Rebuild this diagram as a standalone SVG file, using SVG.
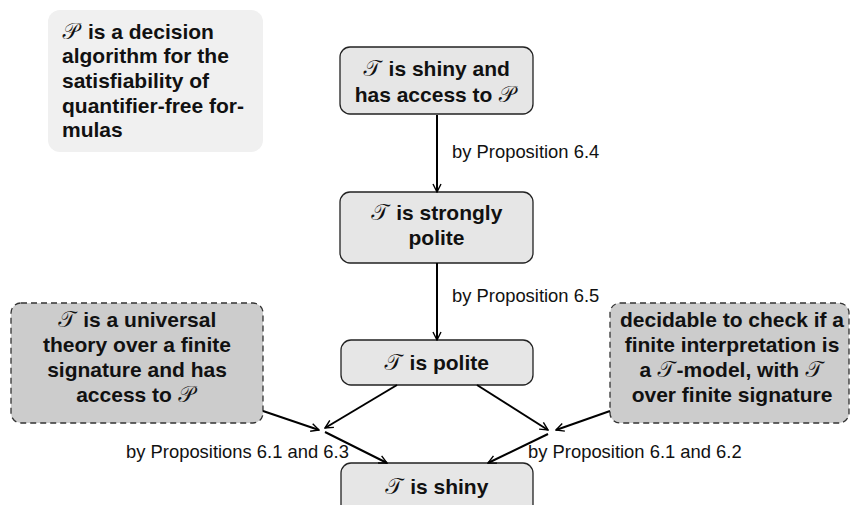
<svg xmlns="http://www.w3.org/2000/svg" width="853" height="505" viewBox="0 0 853 505">
<style>
.b{font-family:"Liberation Sans",Arial,sans-serif;font-weight:bold;font-size:21px;fill:#111}
.c{text-anchor:middle}
.m{font-family:"DejaVu Serif","Noto Sans Math",serif;font-weight:normal}
.lbl{font-family:"Liberation Sans",Arial,sans-serif;font-size:18.4px;fill:#111}
.node{fill:#e6e6e6;stroke:#222;stroke-width:1.3}
.dash{fill:#cccccc;stroke:#333;stroke-width:1.3;stroke-dasharray:6 4}
.edge{stroke:#000;stroke-width:2;fill:none;marker-end:url(#ah)}
</style>
<defs>
<marker id="ah" viewBox="0 0 10 10" refX="9" refY="5" markerWidth="10" markerHeight="10" orient="auto" markerUnits="userSpaceOnUse">
<path d="M1,1 L9,5 L1,9" fill="none" stroke="#000" stroke-width="1.4"/>
</marker>
</defs>
<rect width="853" height="505" fill="#fff"/>
<g id="note">
<rect x="48" y="10" width="215" height="142" rx="12" fill="#f0f0f0"/>
<text class="b" x="62" y="39"><tspan class="m">𝒫</tspan> is a decision</text>
<text class="b" x="62" y="63">algorithm for the</text>
<text class="b" x="62" y="88">satisfiability of</text>
<text class="b" x="62" y="113">quantifier-free for-</text>
<text class="b" x="62" y="137">mulas</text>
</g>
<g id="n1">
<rect class="node" x="340" y="47" width="193" height="67" rx="10"/>
<text class="b c" x="436.5" y="76"><tspan class="m">𝒯</tspan> is shiny and</text>
<text class="b c" x="436.5" y="102">has access to <tspan class="m">𝒫</tspan></text>
</g>
<g id="n2">
<rect class="node" x="340" y="192" width="193" height="71" rx="10"/>
<text class="b c" x="436.5" y="220"><tspan class="m">𝒯</tspan> is strongly</text>
<text class="b c" x="436.5" y="245">polite</text>
</g>
<g id="n3">
<rect class="node" x="341" y="340" width="192" height="45" rx="10"/>
<text class="b c" x="436.5" y="370"><tspan class="m">𝒯</tspan> is polite</text>
</g>
<g id="n4">
<rect class="node" x="341" y="463" width="192" height="55" rx="10"/>
<text class="b c" x="436.5" y="494"><tspan class="m">𝒯</tspan> is shiny</text>
</g>
<g id="left">
<rect class="dash" x="11" y="303" width="252" height="120" rx="10"/>
<text class="b c" x="137" y="327"><tspan class="m">𝒯</tspan> is a universal</text>
<text class="b c" x="137" y="352">theory over a finite</text>
<text class="b c" x="137" y="377">signature and has</text>
<text class="b c" x="137" y="402">access to <tspan class="m">𝒫</tspan></text>
</g>
<g id="right">
<rect class="dash" x="610" y="303" width="239" height="120" rx="10"/>
<text class="b c" x="732" y="327">decidable to check if a</text>
<text class="b c" x="732" y="352">finite interpretation is</text>
<text class="b c" x="732" y="377">a <tspan class="m">𝒯</tspan>-model, with <tspan class="m">𝒯</tspan></text>
<text class="b c" x="732" y="402">over finite signature</text>
</g>
<g id="connectors">
<line class="edge" x1="437" y1="115" x2="437" y2="192"/>
<line class="edge" x1="437" y1="263" x2="437" y2="340"/>
<line class="edge" x1="263" y1="411" x2="319" y2="430"/>
<line class="edge" x1="397" y1="385" x2="325" y2="428"/>
<line class="edge" x1="325" y1="432" x2="387" y2="463"/>
<line class="edge" x1="477" y1="385" x2="548" y2="430"/>
<line class="edge" x1="610" y1="411" x2="556" y2="430"/>
<line class="edge" x1="548" y1="434" x2="488" y2="463"/>
<text class="lbl" x="452" y="158">by Proposition 6.4</text>
<text class="lbl" x="452" y="302">by Proposition 6.5</text>
<text class="lbl" x="126" y="458">by Propositions 6.1 and 6.3</text>
<text class="lbl" x="528" y="458">by Proposition 6.1 and 6.2</text>
</g>
</svg>
